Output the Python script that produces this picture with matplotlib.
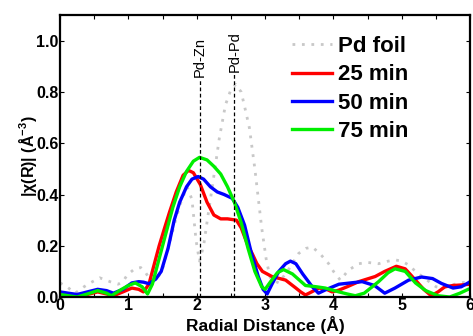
import numpy as np
import matplotlib.pyplot as plt
from matplotlib.ticker import MultipleLocator

plt.rcParams['font.family'] = ['Liberation Sans', 'DejaVu Sans']
plt.rcParams['mathtext.fontset'] = 'custom'
plt.rcParams['mathtext.rm'] = 'Liberation Sans:bold'
plt.rcParams['mathtext.it'] = 'Liberation Sans:bold'
plt.rcParams['mathtext.bf'] = 'Liberation Sans:bold'

# Pd foil reference
foil_r = [0.0, 0.1, 0.22, 0.35, 0.44, 0.58, 0.73, 0.85, 0.92, 0.98, 1.09, 1.18, 1.24, 1.3, 1.4,
          1.5, 1.6, 1.7, 1.78, 1.86, 1.93, 1.99, 2.04, 2.1, 2.16, 2.26, 2.33, 2.42, 2.5, 2.57,
          2.65, 2.72, 2.77, 2.85, 2.95, 3.02, 3.08, 3.2, 3.35, 3.49, 3.6, 3.69, 3.8, 3.93,
          4.0, 4.1, 4.22, 4.37, 4.5, 4.66, 4.8, 4.9, 5.0, 5.1, 5.2, 5.3, 5.4, 5.5, 5.6, 5.7,
          5.85, 6.0]
foil_chi = [0.055, 0.04, 0.015, 0.04, 0.055, 0.075, 0.06, 0.05, 0.06, 0.085, 0.11, 0.115, 0.1,
            0.075, 0.06, 0.11, 0.21, 0.31, 0.38, 0.43, 0.38, 0.22, 0.14, 0.2, 0.31, 0.49, 0.62,
            0.75, 0.81, 0.83, 0.8, 0.72, 0.66, 0.5, 0.27, 0.14, 0.07, 0.055, 0.11, 0.17, 0.19,
            0.195, 0.17, 0.13, 0.1, 0.066, 0.105, 0.13, 0.135, 0.13, 0.14, 0.145, 0.14, 0.125,
            0.1, 0.08, 0.06, 0.04, 0.035, 0.045, 0.055, 0.06]

# 25 min
r25 = [0.0, 0.12, 0.25, 0.4, 0.55, 0.68, 0.78, 0.92, 1.05, 1.15, 1.22, 1.3, 1.38, 1.45, 1.53,
       1.6, 1.7, 1.8, 1.88, 1.95, 2.05, 2.15, 2.25, 2.35, 2.45, 2.58, 2.65, 2.75, 2.81, 2.88,
       2.96, 3.1, 3.3, 3.45, 3.52, 3.59, 3.68, 3.79, 3.9, 3.98, 4.08, 4.2, 4.37, 4.61, 4.75,
       4.92, 5.05, 5.2, 5.32, 5.43, 5.53, 5.63, 5.75, 5.87, 6.0]
chi25 = [0.01, 0.005, 0.0, 0.01, 0.02, 0.012, 0.005, 0.02, 0.035, 0.03, 0.02, 0.05, 0.13, 0.2,
         0.27, 0.33, 0.41, 0.475, 0.494, 0.485, 0.44, 0.37, 0.32, 0.305, 0.305, 0.3, 0.27, 0.2,
         0.17, 0.13, 0.1, 0.08, 0.066, 0.035, 0.02, 0.008, 0.02, 0.035, 0.03, 0.02, 0.027, 0.04,
         0.06, 0.08, 0.1, 0.12, 0.11, 0.066, 0.03, 0.005, 0.02, 0.04, 0.045, 0.047, 0.05]

# 50 min
r50 = [0.0, 0.12, 0.25, 0.4, 0.55, 0.68, 0.78, 0.92, 1.05, 1.15, 1.22, 1.3, 1.4, 1.48, 1.58,
       1.67, 1.75, 1.85, 1.93, 2.02, 2.1, 2.2, 2.3, 2.4, 2.52, 2.6, 2.7, 2.8, 2.9, 2.97, 3.03,
       3.1, 3.2, 3.3, 3.37, 3.45, 3.55, 3.69, 3.78, 3.9, 4.08, 4.25, 4.42, 4.6, 4.75, 4.9, 5.1,
       5.29, 5.45, 5.58, 5.75, 5.87, 5.97, 6.0]
chi50 = [0.02, 0.015, 0.01, 0.02, 0.03, 0.025, 0.015, 0.03, 0.055, 0.06, 0.058, 0.052, 0.07,
         0.1, 0.19, 0.3, 0.37, 0.43, 0.46, 0.47, 0.46, 0.43, 0.41, 0.4, 0.385, 0.35, 0.28, 0.17,
         0.08, 0.03, 0.012, 0.05, 0.1, 0.13, 0.14, 0.13, 0.09, 0.04, 0.015, 0.03, 0.05, 0.055,
         0.06, 0.045, 0.015, 0.035, 0.066, 0.078, 0.072, 0.053, 0.035, 0.04, 0.055, 0.06]

# 75 min
r75 = [0.0, 0.12, 0.25, 0.4, 0.55, 0.68, 0.75, 0.9, 1.0, 1.1, 1.2, 1.28, 1.35, 1.45, 1.55,
       1.65, 1.75, 1.85, 1.95, 2.04, 2.15, 2.25, 2.35, 2.45, 2.55, 2.65, 2.75, 2.85, 2.95, 3.0,
       3.08, 3.18, 3.27, 3.4, 3.59, 3.75, 3.88, 4.08, 4.2, 4.32, 4.45, 4.66, 4.8, 4.9, 5.05,
       5.2, 5.35, 5.53, 5.7, 5.85, 5.97, 6.0]
chi75 = [0.01, 0.005, 0.0, 0.012, 0.025, 0.015, 0.005, 0.03, 0.045, 0.055, 0.04, 0.012, 0.05,
         0.15, 0.25, 0.35, 0.43, 0.49, 0.53, 0.545, 0.535, 0.51, 0.48, 0.43, 0.37, 0.29, 0.19,
         0.1, 0.04, 0.03, 0.06, 0.095, 0.107, 0.09, 0.045, 0.04, 0.035, 0.02, 0.012, 0.005,
         0.015, 0.06, 0.095, 0.11, 0.1, 0.055, 0.025, 0.005, 0.0, 0.015, 0.03, 0.032]

# reference bond positions
bond_r = [2.05, 2.55]
bond_top = [0.85, 0.87]
bond_names = ['Pd-Zn', 'Pd-Pd']

fig = plt.figure(figsize=(4.73, 3.36), dpi=100)
ax = fig.add_axes([0.127, 0.116, 0.867, 0.839])

ax.plot(foil_r, foil_chi, color='#c8c8c8', lw=2, ls=(0, (1, 2.4)), label='Pd foil')
ax.plot(r25, chi25, color='#ff0000', lw=2.4, label='25 min')
ax.plot(r50, chi50, color='#0000ff', lw=2.4, label='50 min')
ax.plot(r75, chi75, color='#00ee00', lw=2.4, label='75 min')

for r, top, name in zip(bond_r, bond_top, bond_names):
    ax.plot([r, r], [0, top], color='black', lw=0.9, ls=(0, (3, 2)))
    ax.text(r, top + 0.01, name, rotation=90, ha='center', va='bottom', fontsize=10.5)

ax.set_xlim(0, 6)
ax.set_ylim(0, 1.1)
ax.xaxis.set_major_locator(MultipleLocator(1))
ax.xaxis.set_minor_locator(MultipleLocator(0.5))
ax.set_yticks([0, 0.2, 0.4, 0.6, 0.8, 1.0])
ax.tick_params(which='both', direction='in', top=True, right=True, length=3, width=0.8)
ax.tick_params(which='major', labelsize=11.5, pad=1)
for lab in ax.get_xticklabels():
    lab.set_fontweight('bold')
ax.set_yticklabels(['0.0', '0.2', '0.4', '0.6', '0.8', '1.0'], fontweight='bold')
for s in ax.spines.values():
    s.set_linewidth(1.6)

ax.set_xlabel('Radial Distance (Å)', fontsize=12.5, fontweight='bold', labelpad=2)
ax.set_ylabel(r'$|\chi$(R)$|$ (Å$^{-3}$)', fontsize=11.5, fontweight='bold', labelpad=-2)

leg = ax.legend(loc='upper left', bbox_to_anchor=(0.566, 0.926), frameon=False,
                prop={'weight': 'bold', 'size': 16}, handlelength=1.8, handletextpad=0.25,
                labelspacing=0.33, borderpad=0, borderaxespad=0)

fig.savefig('out.png', dpi=100)
